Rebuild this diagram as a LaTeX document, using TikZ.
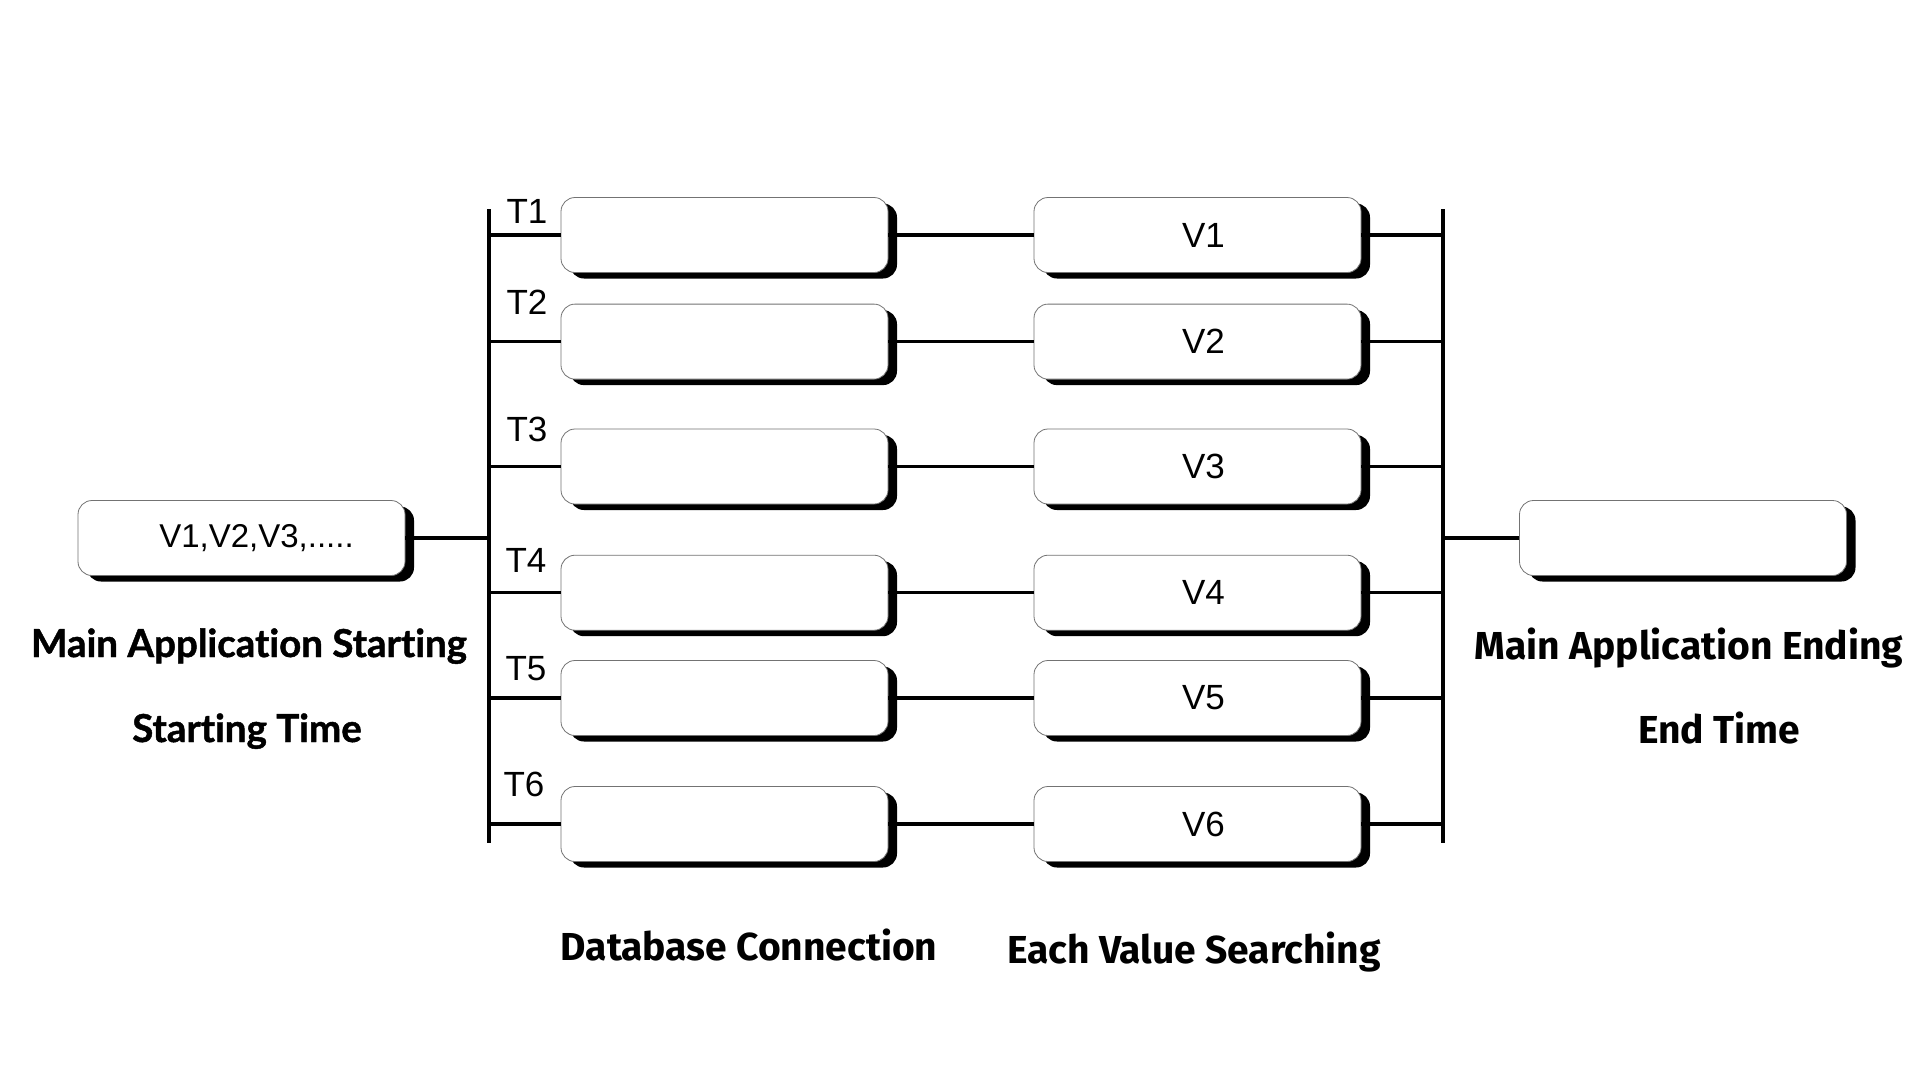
\documentclass[tikz,border=0pt]{standalone}
\usepackage{fontspec}
\setmainfont{Liberation Sans}
\newfontfamily\latobold{Lato}[UprightFont=* Bold, FakeBold=1.2, Ligatures=NoCommon]
\newfontfamily\firabold{Fira Sans}[UprightFont=* Bold]
\usetikzlibrary{shadows}
\begin{document}
\begin{tikzpicture}[x=1pt,y=-1pt,
  box/.style={draw=black!55, line width=0.8pt, fill=white, rounded corners=14pt,
    minimum width=327pt, minimum height=75pt, inner sep=0pt,
    font=\fontsize{35}{42}\selectfont,
    general shadow={fill=black, shadow xshift=9pt, shadow yshift=-6pt}},
  tlabel/.style={inner sep=0pt, font=\fontsize{35}{42}\selectfont},
  boldleft/.style={inner sep=0pt, anchor=base, font=\latobold\fontsize{38.5}{44}\selectfont},
  boldcond/.style={inner sep=0pt, anchor=base, font=\firabold\fontsize{39}{45}\selectfont},
  wire/.style={line width=3.5pt},
  bar/.style={line width=4pt}]
\useasboundingbox (0,0) rectangle (1920,1080);
\fill[white] (0,0) rectangle (1920,1080);

% bars
\coordinate (lbarT) at (489,209);
\coordinate (lbarB) at (489,843);
\coordinate (rbarT) at (1443,209);
\coordinate (rbarB) at (1443,843);
\draw[bar] (lbarT) -- (lbarB);
\draw[bar] (rbarT) -- (rbarB);

% start and end boxes
\node[box, font=\fontsize{33}{40}\selectfont] (lbox) at (241.5,538) {\hspace*{30pt}V1,V2,V3,.....};
\node[box] (rbox) at (1683,538) {};

% rows
\foreach \i/\y in {1/235, 2/341.6, 3/466.5, 4/592.7, 5/698, 6/824}{
  \node[box] (db\i) at (724.5,\y) {};
  \node[box] (v\i) at (1197.5,\y) {\hspace*{12pt}V\i};
  \draw[wire] (lbarT |- db\i.west) -- (db\i.west);
  \draw[wire] (db\i.east) -- (v\i.west);
  \draw[wire] (v\i.east) -- (v\i.east -| rbarT);
}

\draw[wire] (lbox.east) -- (lbox.east -| lbarT);
\draw[wire] (rbox.west -| rbarT) -- (rbox.west);

% T labels
\node[tlabel] (t1) at (527,211) {T1};
\node[tlabel] (t2) at (527,302) {T2};
\node[tlabel] (t3) at (527,429) {T3};
\node[tlabel] (t4) at (526,560) {T4};
\node[tlabel] (t5) at (526,669) {T5};
\node[tlabel] (t6) at (524,784) {T6};

% captions
\node[boldleft] (mas) at (249,657) {Main Application Starting};
\node[boldleft] (st) at (247,742) {Starting Time};
\node[boldcond] (mae) at (1689,659) {Main Application Ending};
\node[boldcond] (et) at (1719,743) {End Time};
\node[boldcond] (dbc) at (749,960) {Database Connection};
\node[boldcond] (evs) at (1194,963) {Each Value Searching};
\end{tikzpicture}
\end{document}
